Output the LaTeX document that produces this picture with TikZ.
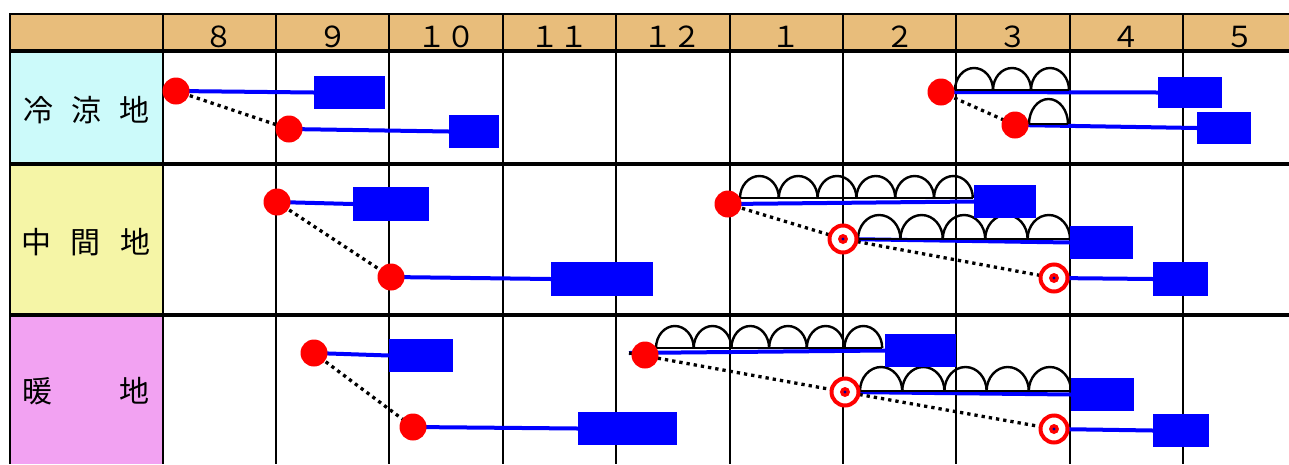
\documentclass[tikz,border=0pt]{standalone}
\usepackage{fontspec}
\newfontfamily\jp{Noto Sans CJK JP}
\definecolor{hdr}{RGB}{232,189,123}
\definecolor{cool}{RGB}{204,250,250}
\definecolor{mid}{RGB}{245,245,166}
\definecolor{warm}{RGB}{242,162,242}
\pgfdeclarelayer{gridlayer}
\pgfdeclarelayer{linelayer}
\pgfsetlayers{gridlayer,linelayer,main}
\begin{document}
\begin{tikzpicture}[x=1pt,y=-1pt,
  dot/.style={circle,fill=red,inner sep=0pt,minimum size=27pt},
  target/.style={circle,draw=red,line width=4pt,fill=white,inner sep=0pt,minimum size=27pt,
    path picture={\fill[red] (path picture bounding box.center) circle (5pt);
                  \fill[blue!60!black] (path picture bounding box.center) circle (1.6pt);}},
  bar/.style={rectangle,fill=blue,inner sep=0pt},
  link/.style={blue,line width=4pt},
  chain/.style={black,line width=3.3pt,dash pattern=on 3.3pt off 4pt},
  bumps/.style={black,line width=2.4pt},
  gridline/.style={black,line width=2pt},
  rowsep/.style={black,line width=3.5pt},
  month/.style={font=\jp\fontsize{29}{29}\selectfont,anchor=base,inner sep=0pt},
  zone/.style={font=\jp\fontsize{30}{30}\selectfont,anchor=base,inner sep=0pt},
]
\useasboundingbox (0,0) rectangle (1289,464);

% ---------- table ----------
\begin{pgfonlayer}{gridlayer}
\fill[white] (0,0) rectangle (1289,464);
\fill[hdr] (10,14) rectangle (1289,51);
\fill[cool] (10,51) rectangle (162.5,164);
\fill[mid] (10,164) rectangle (162.5,315);
\fill[warm] (10,315) rectangle (162.5,464);
\foreach \x in {162.5,275.9,389.3,502.7,616.1,729.5,842.9,956.3,1069.7,1183.1}
  \draw[gridline] (\x,14) -- (\x,464);
\draw[gridline] (10,13) -- (10,464);
\draw[gridline] (10,14) -- (1289,14);
\draw[rowsep] (10,51) -- (1289,51);
\draw[rowsep] (10,164) -- (1289,164);
\draw[rowsep] (10,315) -- (1289,315);
\end{pgfonlayer}

% ---------- header ----------
\node[month] (m8)  at (219.2,47) {８};
\node[month] (m9)  at (332.6,47) {９};
\node[month] (m10) at (446.0,47) {１０};
\node[month] (m11) at (559.4,47) {１１};
\node[month] (m12) at (672.8,47) {１２};
\node[month] (m1)  at (786.2,47) {１};
\node[month] (m2)  at (899.6,47) {２};
\node[month] (m3)  at (1013.0,47) {３};
\node[month] (m4)  at (1126.4,47) {４};
\node[month] (m5)  at (1239.8,47) {５};

% ---------- zones ----------
\node[zone] (z1) at (86,121) {冷\hspace{18pt}涼\hspace{18pt}地};
\node[zone] (z2) at (86,253) {中\hspace{20pt}間\hspace{20pt}地};
\node[zone] (z3) at (86,402) {暖\hspace{67pt}地};

% ---------- row 1 ----------
\node[bar,minimum width=71pt,minimum height=33pt] (b11) at (349.5,92.5) {};
\node[bar,minimum width=50pt,minimum height=33pt] (b12) at (474,131.5) {};
\node[bar,minimum width=64pt,minimum height=31pt] (b13) at (1190,92.5) {};
\node[bar,minimum width=54pt,minimum height=32pt] (b14) at (1224,128) {};
\node[dot] (d11) at (176,91) {};
\node[dot] (d12) at (289,129) {};
\node[dot] (d13) at (941,92) {};
\node[dot] (d14) at (1015,125) {};

% ---------- row 2 ----------
\node[bar,minimum width=76pt,minimum height=34pt] (b21) at (391,204) {};
\node[bar,minimum width=102pt,minimum height=34pt] (b22) at (602,279) {};
\node[bar,minimum width=62pt,minimum height=33pt] (b23) at (1005,201.5) {};
\node[bar,minimum width=63pt,minimum height=33pt] (b24) at (1101.5,242.5) {};
\node[bar,minimum width=55pt,minimum height=34pt] (b25) at (1180.5,279) {};
\node[dot] (d21) at (277,202) {};
\node[dot] (d22) at (391,277) {};
\node[dot] (d23) at (728,204) {};
\node[target] (t21) at (843,239) {};
\node[target] (t22) at (1054,278) {};

% ---------- row 3 ----------
\node[bar,minimum width=64pt,minimum height=33pt] (b31) at (421,355.5) {};
\node[bar,minimum width=99pt,minimum height=33pt] (b32) at (627.5,428.5) {};
\node[bar,minimum width=71pt,minimum height=33pt] (b33) at (920.5,350.5) {};
\node[bar,minimum width=63pt,minimum height=33pt] (b34) at (1102.5,394.5) {};
\node[bar,minimum width=56pt,minimum height=33pt] (b35) at (1181,430.5) {};
\node[dot] (d31) at (314,353) {};
\node[dot] (d32) at (413,427) {};
\coordinate (s33) at (629,353);
\node[dot] (d33) at (645,355) {};
\node[target] (t31) at (845,392) {};
\node[target] (t32) at (1054,429) {};

% ---------- connectors ----------
\begin{pgfonlayer}{linelayer}
\draw[link] (d11.center) -- (b11.west);
\draw[link] (d12.center) -- (b12.west);
\draw[link] (d13.center) -- (b13.west);
\draw[link] (d14.center) -- (b14.west);
\draw[link] (d21.center) -- (b21.west);
\draw[link] (d22.center) -- (b22.west);
\draw[link] (d23.center) -- (b23.west);
\draw[link] (t21.center) -- (b24.west);
\draw[link] (t22.center) -- (b25.west);
\draw[link] (d31.center) -- (b31.west);
\draw[link] (d32.center) -- (b32.west);
\draw[link] (s33) -- (b33.west);
\draw[link] (t31.center) -- (b34.west);
\draw[link] (t32.center) -- (b35.west);

\draw[chain] (d11.center) -- (d12.center);
\draw[chain] (d13.center) -- (d14.center);
\draw[chain] (d21.center) -- (d22.center);
\draw[chain] (d23.center) -- (t21.center);
\draw[chain] (t21.center) -- (t22.center);
\draw[chain] (d31.center) -- (d32.center);
\draw[chain] (s33) -- (t31.center);
\draw[chain] (t31.center) -- (t32.center);

% bumps: start x / count / width / base y / height
\foreach \s/\n/\w/\b/\h in {955/3/38/90/22, 1029/1/39/124/25,
    740/6/38.8/198/22, 858/5/42.4/239/24,
    656/6/37.7/348/22, 860/5/42.2/391/24} {
  \pgfmathsetmacro{\rx}{0.5*\w}
  \foreach \i in {1,...,\n} {
    \draw[bumps] (\s+\i*\w-\w,\b) arc[start angle=180,end angle=0,x radius=\rx pt,y radius=\h pt];
  }
  \draw[bumps] (\s,\b) -- (\s+\n*\w,\b);
}
\end{pgfonlayer}
\end{tikzpicture}
\end{document}
